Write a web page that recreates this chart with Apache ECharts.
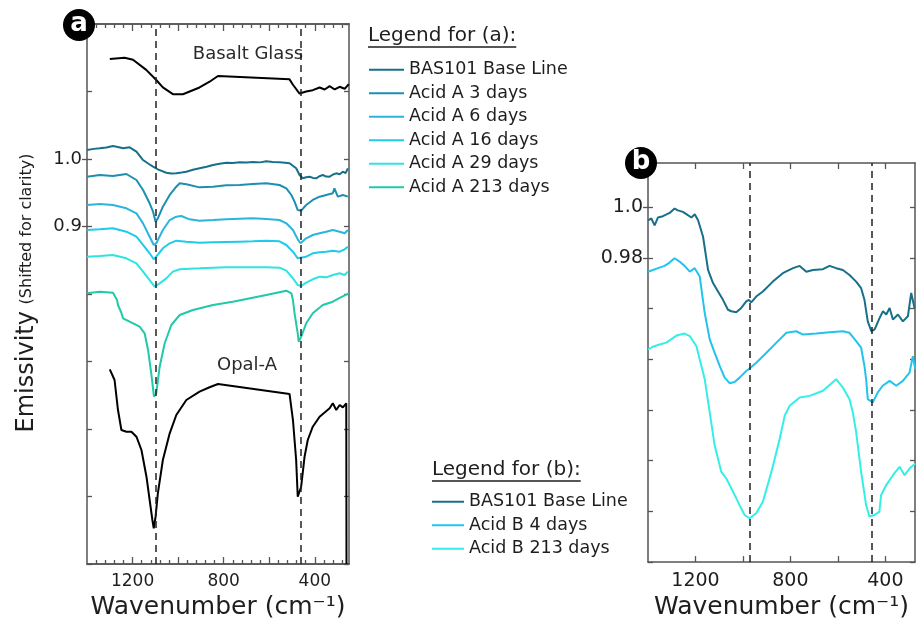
<!DOCTYPE html>
<html>
<head>
<meta charset="utf-8">
<script src="https://cdn.jsdelivr.net/npm/echarts@6/dist/echarts.min.js"></script>
<style>
  html, body { margin: 0; padding: 0; background: #fff; }
  #chart { width: 924px; height: 625px; }
</style>
</head>
<body>
<div id="chart"></div>
<script>
// ---------- Panel (a): emissivity spectra, wavenumber [cm-1] vs emissivity ----------
const basaltGlass = [[1300,1.148],[1235,1.150],[1198,1.147],[1140,1.132],[1096,1.117],[1067,1.106],[1023,1.096],[979,1.096],[906,1.106],[862,1.1145],[825,1.123],[511,1.118],[496,1.110],[467,1.097],[438,1.100],[409,1.102],[379,1.106],[357,1.103],[335,1.108],[313,1.103],[291,1.107],[269,1.104],[251,1.111]];

const bas101A = [[1400,1.0133],[1370,1.0150],[1344,1.0158],[1315,1.0170],[1286,1.0193],[1260,1.0175],[1242,1.0158],[1213,1.0173],[1183,1.0108],[1154,0.9985],[1130,0.9930],[1110,0.9886],[1089,0.9847],[1052,0.9797],[1030,0.9785],[1008,0.9788],[985,0.9800],[964,0.9812],[935,0.9840],[906,0.9862],[875,0.9885],[847,0.9911],[818,0.9930],[789,0.9945],[760,0.9940],[730,0.9951],[700,0.9948],[672,0.9956],[640,0.9950],[613,0.9966],[585,0.9955],[555,0.9951],[530,0.9945],[511,0.9936],[482,0.9862],[467,0.9763],[453,0.9714],[438,0.9730],[423,0.9738],[408,0.9720],[394,0.9714],[380,0.9745],[365,0.9763],[350,0.9740],[335,0.9738],[320,0.9770],[306,0.9788],[291,0.9775],[277,0.9812],[265,0.9790],[255,0.9862]];

const acidA3 = [[1400,0.9738],[1344,0.9763],[1286,0.9748],[1227,0.9778],[1183,0.9689],[1154,0.9541],[1125,0.9344],[1110,0.9219],[1099,0.9071],[1089,0.9121],[1067,0.9294],[1037,0.9467],[1008,0.9590],[993,0.9640],[964,0.9625],[906,0.9580],[847,0.9590],[789,0.9610],[730,0.9615],[672,0.9630],[613,0.9640],[555,0.9615],[525,0.9566],[503,0.9467],[489,0.9368],[475,0.9244],[460,0.9234],[438,0.9319],[409,0.9393],[379,0.9442],[350,0.9467],[321,0.9492],[314,0.9566],[299,0.9442],[277,0.9467],[255,0.9442]];

const acidA6 = [[1400,0.9319],[1344,0.9333],[1286,0.9319],[1227,0.9270],[1183,0.9195],[1154,0.9047],[1125,0.8849],[1107,0.8726],[1096,0.8751],[1067,0.8948],[1037,0.9096],[1008,0.9145],[986,0.9156],[950,0.9106],[906,0.9086],[847,0.9096],[789,0.9106],[730,0.9116],[672,0.9121],[613,0.9111],[555,0.9096],[525,0.9047],[496,0.8948],[475,0.8810],[463,0.8751],[438,0.8825],[409,0.8874],[379,0.8899],[350,0.8923],[321,0.8948],[291,0.8923],[269,0.8899],[255,0.8948]];

const acidA16 = [[1400,0.8948],[1344,0.8958],[1286,0.8973],[1227,0.8923],[1183,0.8849],[1154,0.8726],[1125,0.8603],[1107,0.8514],[1096,0.8553],[1067,0.8677],[1037,0.8751],[1008,0.8790],[964,0.8775],[906,0.8760],[847,0.8765],[789,0.8770],[730,0.8775],[672,0.8780],[613,0.8790],[555,0.8780],[525,0.8726],[496,0.8627],[475,0.8529],[467,0.8504],[438,0.8553],[409,0.8603],[379,0.8618],[350,0.8627],[321,0.8642],[291,0.8627],[269,0.8662],[255,0.8701]];

const acidA29 = [[1400,0.8553],[1344,0.8563],[1286,0.8578],[1227,0.8529],[1183,0.8455],[1154,0.8331],[1125,0.8207],[1103,0.8108],[1081,0.8158],[1052,0.8232],[1023,0.8331],[993,0.8366],[950,0.8375],[906,0.8380],[847,0.8390],[789,0.8395],[730,0.8395],[672,0.8395],[613,0.8395],[555,0.8390],[525,0.8346],[496,0.8232],[475,0.8133],[460,0.8118],[438,0.8168],[409,0.8218],[379,0.8257],[350,0.8247],[321,0.8282],[291,0.8307],[269,0.8282],[255,0.8331]];

const acidA213 = [[1400,0.8010],[1344,0.8034],[1286,0.8019],[1268,0.7911],[1264,0.7837],[1249,0.7719],[1242,0.7640],[1213,0.7590],[1169,0.7516],[1147,0.7418],[1132,0.7170],[1118,0.6825],[1106,0.6478],[1096,0.6529],[1081,0.6923],[1059,0.7270],[1030,0.7541],[993,0.7689],[935,0.7763],[847,0.7837],[760,0.7886],[613,0.7985],[525,0.8049],[503,0.8010],[496,0.7911],[489,0.7714],[475,0.7418],[471,0.7293],[460,0.7367],[438,0.7566],[409,0.7714],[365,0.7837],[321,0.7886],[291,0.7941],[251,0.8010]];

const opalA = [[1300,0.6884],[1279,0.6726],[1264,0.6281],[1249,0.5985],[1227,0.5960],[1205,0.5960],[1183,0.5886],[1161,0.5689],[1139,0.5293],[1125,0.4948],[1113,0.4652],[1107,0.4529],[1099,0.4701],[1089,0.5047],[1067,0.5541],[1037,0.5936],[1008,0.6207],[964,0.6430],[906,0.6553],[862,0.6618],[825,0.6667],[511,0.6519],[496,0.6133],[482,0.5541],[475,0.4997],[460,0.5145],[445,0.5590],[431,0.5837],[409,0.6034],[379,0.6182],[335,0.6307],[321,0.6381],[306,0.6281],[291,0.6356],[277,0.6321],[262,0.6381],[261,0.4000]];

// ---------- Panel (b) ----------
const bas101B = [[1400,0.9949],[1386,0.9956],[1372,0.9929],[1358,0.9960],[1337,0.9965],[1309,0.9978],[1288,0.9995],[1274,0.9988],[1253,0.9982],[1232,0.9969],[1217,0.9960],[1203,0.9973],[1189,0.9949],[1168,0.9884],[1147,0.9753],[1126,0.9701],[1105,0.9668],[1084,0.9635],[1063,0.9596],[1049,0.9590],[1028,0.9586],[1007,0.9603],[986,0.9629],[975,0.9635],[965,0.9625],[944,0.9648],[916,0.9668],[874,0.9707],[832,0.9740],[789,0.9760],[761,0.9769],[733,0.9746],[705,0.9753],[663,0.9756],[635,0.9769],[607,0.9760],[579,0.9753],[551,0.9733],[523,0.9707],[502,0.9681],[488,0.9635],[474,0.9550],[459,0.9511],[445,0.9518],[424,0.9564],[410,0.9590],[396,0.9577],[382,0.9603],[368,0.9557],[347,0.9577],[326,0.9550],[305,0.9570],[291,0.9662],[277,0.9603]];

const acidB4 = [[1400,0.9746],[1379,0.9753],[1358,0.9760],[1330,0.9769],[1309,0.9782],[1288,0.9799],[1267,0.9786],[1246,0.9769],[1224,0.9746],[1203,0.9760],[1182,0.9727],[1161,0.9583],[1140,0.9479],[1119,0.9426],[1098,0.9374],[1077,0.9328],[1056,0.9306],[1035,0.9311],[1014,0.9328],[986,0.9354],[972,0.9364],[944,0.9387],[901,0.9426],[859,0.9466],[817,0.9505],[775,0.9511],[747,0.9498],[691,0.9502],[635,0.9507],[579,0.9511],[551,0.9505],[523,0.9472],[502,0.9446],[488,0.9374],[481,0.9322],[474,0.9243],[453,0.9230],[432,0.9270],[411,0.9296],[382,0.9315],[354,0.9296],[326,0.9315],[298,0.9348],[284,0.9413],[274,0.9361]];

const acidB213 = [[1400,0.9439],[1379,0.9450],[1351,0.9459],[1323,0.9466],[1280,0.9494],[1246,0.9502],[1224,0.9492],[1196,0.9452],[1175,0.9374],[1161,0.9322],[1140,0.9191],[1119,0.9060],[1091,0.8956],[1070,0.8930],[1042,0.8878],[1014,0.8825],[993,0.8786],[972,0.8773],[944,0.8793],[916,0.8838],[880,0.8956],[845,0.9087],[824,0.9178],[803,0.9217],[761,0.9250],[719,0.9256],[663,0.9276],[607,0.9322],[579,0.9289],[551,0.9243],[537,0.9191],[523,0.9113],[502,0.8956],[481,0.8825],[467,0.8780],[446,0.8786],[425,0.8799],[418,0.8864],[396,0.8904],[368,0.8943],[340,0.8976],[319,0.8943],[298,0.8969],[274,0.8989]];

// reference band positions (dashed guides)
const dashA = [1100, 463];
const dashB = [970, 458];

// axis ticks and labels
const xMajorA = [1200, 1000, 800, 600, 400];
const xMinorA = [1360, 1320, 1280, 1240, 1160, 1120, 1080, 1040, 960, 920, 880, 840, 760, 720, 680, 640, 560, 520, 480, 440, 360, 320, 280];
const xLabelsA = [1200, 800, 400];
const yTicksA = [0.4, 0.5, 0.6, 0.7, 0.8, 0.9, 1.0, 1.1, 1.2];
const yLabelsA = [0.9, 1.0];

const xTicksB = [1200, 1000, 800, 600, 400];
const xLabelsB = [1200, 800, 400];
const yTicksB = [0.86, 0.88, 0.90, 0.92, 0.94, 0.96, 0.98, 1.0];
const yLabelsB = [0.98, 1.0];

const namesA = ['BAS101 Base Line', 'Acid A 3 days', 'Acid A 6 days', 'Acid A 16 days', 'Acid A 29 days', 'Acid A 213 days'];
const namesB = ['BAS101 Base Line', 'Acid B 4 days', 'Acid B 213 days'];

const colors = {
  base: '#17708a',
  a3: '#1d8fb0',
  a6: '#2bb5dc',
  a16: '#1fcbe8',
  a29: '#2fe3e0',
  a213: '#22c9a8',
  b4: '#22c4ee',
  b213: '#33efe6'
};

const FONT = 'DejaVu Sans';
const TXT = '#1e1e1e';
const AX = '#555';
const axLine = { show: true, lineStyle: { color: AX, width: 1.5 } };

function textWidth(str, size) {
  const c = document.createElement('canvas').getContext('2d');
  c.font = size + 'px "' + FONT + '"';
  return c.measureText(str).width;
}

function xAxisDef(grid, min, max, pos, ticks, len, labels, labelSize, name) {
  return {
    gridIndex: grid, type: 'value', inverse: true, min: min, max: max, position: pos,
    axisLine: axLine,
    axisTick: { show: true, inside: true, length: len, customValues: ticks, lineStyle: { color: AX, width: 1.3 } },
    axisLabel: labels ? { show: true, customValues: labels, fontFamily: FONT, fontSize: labelSize, color: TXT, margin: 9, formatter: v => String(v) } : { show: false },
    splitLine: { show: false },
    name: name || '',
    nameLocation: 'middle',
    nameGap: 30,
    nameTextStyle: { fontFamily: FONT, fontSize: 25, color: TXT }
  };
}

function yAxisDef(grid, min, max, pos, ticks, inside, labels, labelSize, fmt) {
  return {
    gridIndex: grid, type: 'value', min: min, max: max, position: pos,
    axisLine: labels ? { show: false } : axLine,
    axisTick: { show: true, inside: inside, length: 5, customValues: ticks, lineStyle: { color: AX, width: 1.3 } },
    axisLabel: labels ? { show: true, customValues: labels, fontFamily: FONT, fontSize: labelSize, color: TXT, margin: 5, formatter: fmt } : { show: false },
    splitLine: { show: false }
  };
}

function line(name, data, color, xi, yi, extra) {
  return Object.assign({
    type: 'line', name: name, data: data, xAxisIndex: xi, yAxisIndex: yi,
    symbol: 'none', showSymbol: false, smooth: false, clip: true,
    lineStyle: { color: color, width: 2 }, itemStyle: { color: color },
    emphasis: { disabled: true }, z: 3
  }, extra || {});
}

function dashed(values) {
  return {
    silent: true, symbol: ['none', 'none'], label: { show: false },
    lineStyle: { type: [7, 5], color: '#222', width: 1.5 },
    emphasis: { disabled: true },
    data: values.map(v => ({ xAxis: v }))
  };
}

const chart = echarts.init(document.getElementById('chart'), null, { renderer: 'canvas' });

const titleA = 'Legend for (a):';
const titleB = 'Legend for (b):';
const wA = textWidth(titleA, 20);
const wB = textWidth(titleB, 20);

const option = {
  animation: false,
  backgroundColor: '#fff',
  textStyle: { fontFamily: FONT },
  grid: [
    { left: 87, top: 24, width: 262, height: 540 },
    { left: 648, top: 163, width: 267, height: 401 }
  ],
  xAxis: [
    xAxisDef(0, 250, 1400, 'bottom', xMajorA, 7, xLabelsA, 17, 'Wavenumber (cm\u207B\u00B9)'),
    xAxisDef(0, 250, 1400, 'bottom', xMinorA, 4, null),
    xAxisDef(0, 250, 1400, 'top', xMajorA, 7, null),
    xAxisDef(0, 250, 1400, 'top', xMinorA, 4, null),
    xAxisDef(1, 275, 1400, 'bottom', xTicksB, 6, xLabelsB, 19, 'Wavenumber (cm\u207B\u00B9)'),
    xAxisDef(1, 275, 1400, 'top', xTicksB, 6, null)
  ],
  yAxis: [
    yAxisDef(0, 0.4, 1.2, 'left', yTicksA, true, null),
    yAxisDef(0, 0.4, 1.2, 'left', yLabelsA, false, yLabelsA, 18, v => v.toFixed(1)),
    yAxisDef(0, 0.4, 1.2, 'right', yTicksA, true, null),
    yAxisDef(1, 0.86, 1.0175, 'left', yTicksB, true, null),
    yAxisDef(1, 0.86, 1.0175, 'left', yLabelsB, false, yLabelsB, 19, v => (Math.abs(v - 1) < 1e-9 ? '1.0' : v.toFixed(2))),
    yAxisDef(1, 0.86, 1.0175, 'right', yTicksB, true, null)
  ],
  legend: [
    {
      data: namesA, orient: 'vertical', left: 369, top: 58, padding: 0,
      itemWidth: 35, itemHeight: 2, icon: 'rect', itemGap: 0, selectedMode: false,
      textStyle: { fontFamily: FONT, fontSize: 17.5, color: TXT, lineHeight: 23.5 }
    },
    {
      data: namesB, orient: 'vertical', left: 432, top: 490, padding: 0,
      itemWidth: 32, itemHeight: 2, icon: 'rect', itemGap: 0, selectedMode: false,
      textStyle: { fontFamily: FONT, fontSize: 17.5, color: TXT, lineHeight: 23.5 }
    }
  ],
  series: [
    line('Basalt Glass', basaltGlass, '#000', 0, 0),
    line('BAS101 Base Line', bas101A, colors.base, 0, 0, { markLine: dashed(dashA) }),
    line('Acid A 3 days', acidA3, colors.a3, 0, 0),
    line('Acid A 6 days', acidA6, colors.a6, 0, 0),
    line('Acid A 16 days', acidA16, colors.a16, 0, 0),
    line('Acid A 29 days', acidA29, colors.a29, 0, 0),
    line('Acid A 213 days', acidA213, colors.a213, 0, 0),
    line('Opal-A', opalA, '#000', 0, 0),
    line('BAS101 Base Line', bas101B, colors.base, 4, 3, { markLine: dashed(dashB) }),
    line('Acid B 4 days', acidB4, colors.b4, 4, 3),
    line('Acid B 213 days', acidB213, colors.b213, 4, 3)
  ],
  graphic: [
    // panel badges
    { type: 'circle', shape: { cx: 79, cy: 25, r: 16 }, style: { fill: '#000' }, z: 100 },
    { type: 'text', x: 79, y: 24, z: 101, style: { text: 'a', fill: '#fff', font: 'bold 26px "' + FONT + '"', align: 'center', verticalAlign: 'middle' } },
    { type: 'circle', shape: { cx: 641, cy: 163, r: 16 }, style: { fill: '#000' }, z: 100 },
    { type: 'text', x: 641, y: 162, z: 101, style: { text: 'b', fill: '#fff', font: 'bold 26px "' + FONT + '"', align: 'center', verticalAlign: 'middle' } },
    // legend headings
    { type: 'text', x: 368, y: 36, style: { text: titleA, fill: TXT, font: '20px "' + FONT + '"', align: 'left', verticalAlign: 'middle' } },
    { type: 'line', shape: { x1: 368, y1: 47, x2: 368 + wA, y2: 47 }, style: { stroke: TXT, lineWidth: 1.3 } },
    { type: 'text', x: 432, y: 470, style: { text: titleB, fill: TXT, font: '20px "' + FONT + '"', align: 'left', verticalAlign: 'middle' } },
    { type: 'line', shape: { x1: 432, y1: 481, x2: 432 + wB, y2: 481 }, style: { stroke: TXT, lineWidth: 1.3 } },
    // curve annotations
    { type: 'text', x: 248, y: 54, style: { text: 'Basalt Glass', fill: '#2a2a2a', font: '18px "' + FONT + '"', align: 'center', verticalAlign: 'middle' } },
    { type: 'text', x: 247, y: 365, style: { text: 'Opal-A', fill: '#2a2a2a', font: '18px "' + FONT + '"', align: 'center', verticalAlign: 'middle' } },
    // y-axis title
    {
      type: 'text', x: 27, y: 293, rotation: Math.PI / 2,
      style: {
        text: '{big|Emissivity}  {small|(Shifted for clarity)}',
        align: 'center', verticalAlign: 'middle', fill: TXT,
        rich: {
          big: { fontSize: 24, fontFamily: FONT, fill: TXT },
          small: { fontSize: 16, fontFamily: FONT, fill: TXT }
        }
      }
    }
  ]
};

chart.setOption(option);
</script>
</body>
</html>
